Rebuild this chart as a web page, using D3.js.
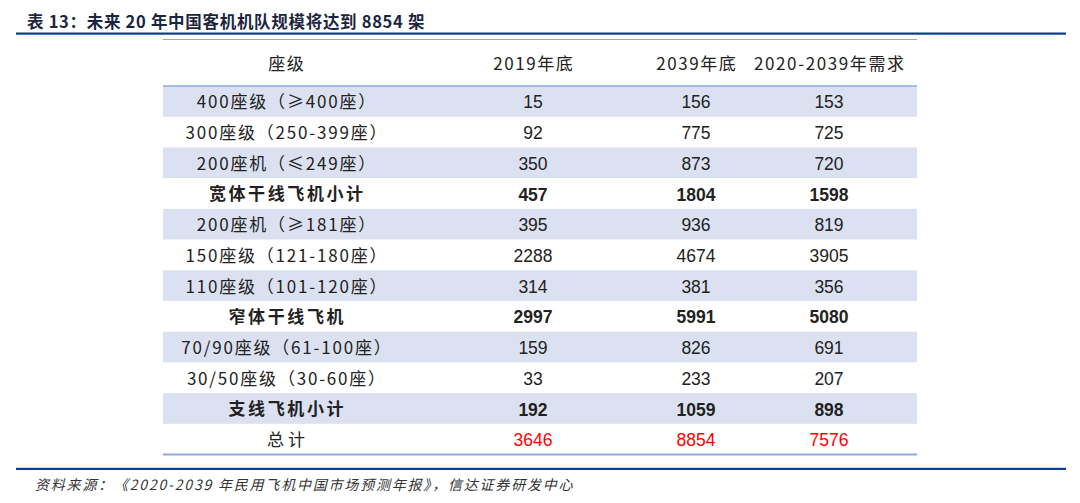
<!DOCTYPE html>
<html>
<head>
<meta charset="utf-8">
<script src="https://cdn.jsdelivr.net/npm/d3@7"></script>
<style>
  html, body { margin: 0; padding: 0; background: #fff; }
  svg { display: block; }
</style>
</head>
<body>
<svg id="chart" width="1080" height="503"></svg>
<script>
const titleText = "表 13：未来 20 年中国客机机队规模将达到 8854 架";
const sourceText = "资料来源：《2020-2039 年民用飞机中国市场预测年报》，信达证券研发中心";
const headers = ["座级", "2019年底", "2039年底", "2020-2039年需求"];
const categories = [
  "400座级（≥400座）",
  "300座级（250-399座）",
  "200座机（≤249座）",
  "宽体干线飞机小计",
  "200座机（≥181座）",
  "150座级（121-180座）",
  "110座级（101-120座）",
  "窄体干线飞机",
  "70/90座级（61-100座）",
  "30/50座级（30-60座）",
  "支线飞机小计",
  "总计"
];
const fleet2019 = [15, 92, 350, 457, 395, 2288, 314, 2997, 159, 33, 192, 3646];
const fleet2039 = [156, 775, 873, 1804, 936, 4674, 381, 5991, 826, 233, 1059, 8854];
const demand2020_2039 = [153, 725, 720, 1598, 819, 3905, 356, 5080, 691, 207, 898, 7576];
const subtotalRows = ["宽体干线飞机小计", "窄体干线飞机", "支线飞机小计"];
const totalRow = "总计";

const svg = d3.select("#chart");

const cjk = "'Noto Sans CJK SC', 'Noto Sans', sans-serif";
const num = "'Liberation Sans', Arial, sans-serif";

// Title
svg.append("text")
  .attr("x", 27).attr("y", 28)
  .attr("font-family", cjk)
  .attr("font-size", 16.5)
  .attr("font-weight", 700)
  .attr("letter-spacing", 0.7)
  .attr("fill", "#1c2540")
  .text(titleText);

// Thick blue rules
svg.append("rect").attr("x", 16).attr("y", 32.5).attr("width", 1050).attr("height", 2.2).attr("fill", "#0b3d91");
svg.append("rect").attr("x", 16).attr("y", 467.8).attr("width", 1050).attr("height", 2.2).attr("fill", "#0b3d91");

// Table geometry
const tableLeft = 163, tableRight = 917;
const headerTop = 39.5, headerBottom = 86, tableBottom = 454.5;

const rowKeys = d3.range(categories.length);
const y = d3.scaleBand().domain(rowKeys).range([headerBottom, tableBottom]);
const colKeys = ["cat", "y2019", "y2039", "demand"];
const x = d3.scaleOrdinal().domain(colKeys).range([286, 533, 696, 829]);

// Row shading
svg.append("g").selectAll("rect")
  .data(rowKeys.filter(i => i % 2 === 0))
  .join("rect")
  .attr("x", tableLeft).attr("width", tableRight - tableLeft)
  .attr("y", d => y(d)).attr("height", y.bandwidth())
  .attr("fill", "#dbe1f1");

// Table lines
const lineColor = "#8eaadc";
[[headerTop, 1.2], [headerBottom, 1.4], [tableBottom, 2]].forEach(([yy, w]) => {
  svg.append("line")
    .attr("x1", tableLeft).attr("x2", tableRight)
    .attr("y1", yy).attr("y2", yy)
    .attr("stroke", lineColor).attr("stroke-width", w);
});

// Header
const headerLS = 1.6;
svg.append("g").selectAll("text")
  .data(headers)
  .join("text")
  .attr("x", (d, i) => x(colKeys[i]) + headerLS / 2)
  .attr("y", (headerTop + headerBottom) / 2 + 1)
  .attr("dy", "0.35em")
  .attr("text-anchor", "middle")
  .attr("font-family", cjk)
  .attr("font-size", 17)
  .attr("letter-spacing", headerLS)
  .attr("fill", "#222")
  .text(d => d);

// Body
const rows = categories.map((c, i) => ({
  i, cat: c, vals: [fleet2019[i], fleet2039[i], demand2020_2039[i]],
  bold: subtotalRows.includes(c), total: c === totalRow
}));

const g = svg.append("g");
rows.forEach(r => {
  const cy = y(r.i) + y.bandwidth() / 2 + 1;
  const ls = r.bold ? 2.6 : (r.total ? 4 : 1.8);
  g.append("text")
    .attr("x", x("cat") + ls / 2).attr("y", cy).attr("dy", "0.35em")
    .attr("text-anchor", "middle")
    .attr("font-family", cjk)
    .attr("font-size", 17)
    .attr("letter-spacing", ls)
    .attr("font-weight", r.bold ? 700 : 400)
    .attr("fill", "#222")
    .text(r.cat);
  r.vals.forEach((v, k) => {
    g.append("text")
      .attr("x", x(colKeys[k + 1])).attr("y", cy).attr("dy", "0.35em")
      .attr("text-anchor", "middle")
      .attr("font-family", num)
      .attr("font-size", 17.5)
      .attr("font-weight", r.bold ? 700 : 400)
      .attr("fill", r.total ? "#ff0000" : "#222")
      .text(v);
  });
});

// Source
svg.append("text")
  .attr("x", 35).attr("y", 490)
  .attr("font-family", cjk)
  .attr("font-size", 14)
  .attr("font-style", "italic")
  .attr("letter-spacing", 1.8)
  .attr("fill", "#333")
  .text(sourceText);
</script>
</body>
</html>
